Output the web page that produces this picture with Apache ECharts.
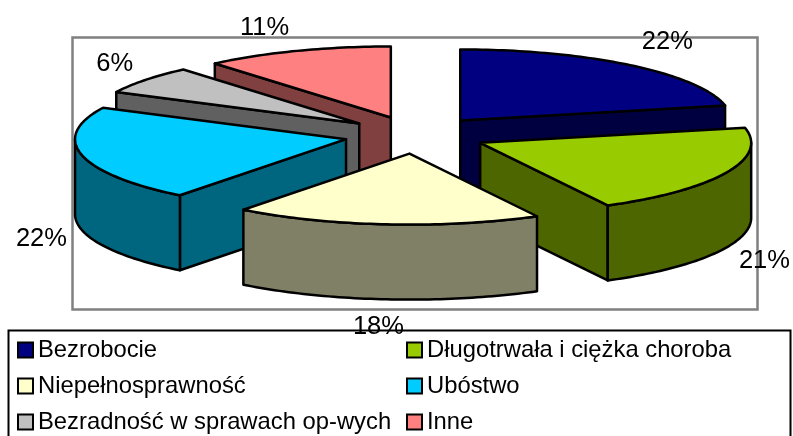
<!DOCTYPE html>
<html>
<head>
<meta charset="utf-8">
<title>Pie</title>
<script src="https://cdn.jsdelivr.net/npm/echarts@6/dist/echarts.min.js"></script>
<style>
  html, body { margin: 0; padding: 0; background: #fff; overflow: hidden; }
  #chart { width: 793px; height: 436px; }
</style>
</head>
<body>
<div id="chart"></div>
<script>
var names = ['Bezrobocie', 'Długotrwała i ciężka choroba', 'Niepełnosprawność', 'Ubóstwo', 'Bezradność w sprawach op-wych', 'Inne']
var values = [21.6, 20.6, 18.3, 21.8, 6.45, 11.25]
var topColors = ['#000080', '#99CC00', '#FFFFCC', '#00CCFF', '#C0C0C0', '#FF8080']
var wallColors = ['#000040', '#4D6600', '#808066', '#006680', '#606060', '#804040']
// back to front
var drawOrder = [5, 4, 0, 3, 1, 2]
// hand placed like the original labels
var labelShift = [[7, -1], [-5, 1], [-4, -1], [6, 3], [7, 1], [-16, 4]]

var cx = 415.5, cy = 135, rx = 271, ry = 71, depth = 75, explode = 0.263
var fontName = '"Liberation Sans", Arial, sans-serif'

var total = values.reduce(function (a, b) { return a + b }, 0)

function sliceAngles(i) {
  var before = 0
  for (var k = 0; k < i; k++) before += values[k]
  return [before / total * Math.PI * 2, (before + values[i]) / total * Math.PI * 2]
}

function rim(ax, ay, t, drop) {
  return [ax + rx * Math.sin(t), ay - ry * Math.cos(t) + drop]
}

function arcPoints(ax, ay, a, b, drop) {
  var pts = []
  var n = Math.max(2, Math.ceil((b - a) / 0.02))
  for (var k = 0; k <= n; k++) pts.push(rim(ax, ay, a + (b - a) * k / n, drop))
  return pts
}

function renderSlice(params, api) {
  var i = params.seriesIndex
  var ang = sliceAngles(i)
  var a = ang[0], b = ang[1], mid = (a + b) / 2
  var ax = cx + explode * rx * Math.sin(mid)
  var ay = cy - explode * ry * Math.cos(mid)
  var line = { stroke: '#000', lineWidth: 2.5, lineJoin: 'round' }
  var wall = Object.assign({ fill: wallColors[i] }, line)
  var children = []

  // side cuts that face the viewer
  ;[a, b].forEach(function (t, idx) {
    var s = Math.sin(t)
    if ((idx === 0 && s < -1e-6) || (idx === 1 && s > 1e-6)) {
      var p = rim(ax, ay, t, 0), q = rim(ax, ay, t, depth)
      children.push({ type: 'polygon', shape: { points: [[ax, ay], p, q, [ax, ay + depth]] }, style: wall })
    }
  })

  // outer wall, only the front half of the rim
  var from = Math.max(a, Math.PI / 2), to = Math.min(b, Math.PI * 1.5)
  if (to > from) {
    var upper = arcPoints(ax, ay, from, to, 0)
    var lower = arcPoints(ax, ay, from, to, depth).reverse()
    children.push({ type: 'polygon', shape: { points: upper.concat(lower) }, style: wall })
  }

  // top face
  children.push({
    type: 'polygon',
    shape: { points: [[ax, ay]].concat(arcPoints(ax, ay, a, b, 0)) },
    style: Object.assign({ fill: topColors[i] }, line)
  })

  // percent label outside the rim
  var lowerHalf = Math.cos(mid) < 0
  children.push({
    type: 'text',
    x: cx + 390 * Math.sin(mid) + labelShift[i][0],
    y: cy - 118 * Math.cos(mid) + (lowerHalf ? depth : 0) + labelShift[i][1],
    style: {
      text: Math.round(api.value(0)) + '%',
      fill: '#000',
      font: '25.5px ' + fontName,
      align: 'center',
      verticalAlign: 'middle'
    }
  })

  return { type: 'group', children: children }
}

var legendBase = {
  orient: 'vertical',
  top: 338,
  padding: 0,
  icon: 'rect',
  itemWidth: 15,
  itemHeight: 15,
  itemGap: 12,
  selectedMode: false,
  itemStyle: { borderColor: '#000', borderWidth: 2 },
  textStyle: { color: '#000', fontFamily: fontName, fontSize: 23.8, lineHeight: 24, padding: [0, 0, 0, 0] }
}

var chart = echarts.init(document.getElementById('chart'))
chart.setOption({
  animation: false,
  backgroundColor: '#fff',
  color: topColors,
  legend: [
    Object.assign({}, legendBase, { left: 17, data: [names[0], names[2], names[4]] }),
    Object.assign({}, legendBase, { left: 406, data: [names[1], names[3], names[5]] })
  ],
  graphic: [
    { type: 'rect', z: 0, silent: true, shape: { x: 72.5, y: 37.5, width: 685, height: 272 }, style: { fill: 'none', stroke: '#808080', lineWidth: 2.5 } },
    { type: 'rect', z: 0, silent: true, shape: { x: 8.5, y: 330.5, width: 782, height: 130 }, style: { fill: 'none', stroke: '#000', lineWidth: 2 } }
  ],
  series: names.map(function (name, i) {
    return {
      name: name,
      type: 'custom',
      coordinateSystem: 'none',
      z: 2 + drawOrder.indexOf(i),
      silent: true,
      renderItem: renderSlice,
      itemStyle: { color: topColors[i] },
      data: [[values[i]]]
    }
  })
})
</script>
</body>
</html>
